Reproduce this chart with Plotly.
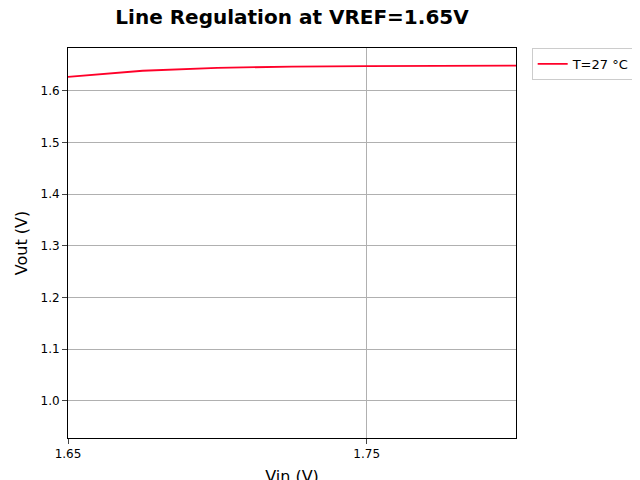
import plotly.graph_objects as go

vin = [1.65, 1.675, 1.70, 1.725, 1.75, 1.775, 1.80]
vout = [1.627, 1.639, 1.6445, 1.647, 1.648, 1.649, 1.649]

fig = go.Figure()
fig.add_trace(go.Scatter(x=vin, y=vout, mode="lines", name="T=27 °C",
                         line=dict(color="#ff0029", width=1.8)))

fig.update_layout(
    width=640, height=480,
    paper_bgcolor="white", plot_bgcolor="white",
    font=dict(family="DejaVu Sans", color="black", size=12),
    title=dict(text="<b>Line Regulation at VREF=1.65V</b>", x=0.5, xref="paper", xanchor="center",
               y=0.995, yanchor="top", font=dict(size=20)),
    margin=dict(l=60, r=129, t=40, b=50),
    showlegend=True,
    legend=dict(x=1.035, y=1, xanchor="left", yanchor="top",
                bordercolor="#cccccc", borderwidth=1, font=dict(size=13)),
    xaxis=dict(range=[1.65, 1.8], tickvals=[1.65, 1.75], ticktext=["1.65", "1.75"],
               automargin=False,
               showgrid=True, gridcolor="#b0b0b0", showline=True, linecolor="black",
               mirror=True, ticks="outside", title=dict(text="Vin (V)", font=dict(size=16), standoff=10)),
    yaxis=dict(range=[0.928, 1.683], dtick=0.1, tickformat=".1f", automargin=False,
               showgrid=True, gridcolor="#b0b0b0", showline=True, linecolor="black",
               mirror=True, ticks="outside", zeroline=False,
               title=dict(text="Vout (V)", font=dict(size=16), standoff=8)),
)
fig.write_html("out.html")
